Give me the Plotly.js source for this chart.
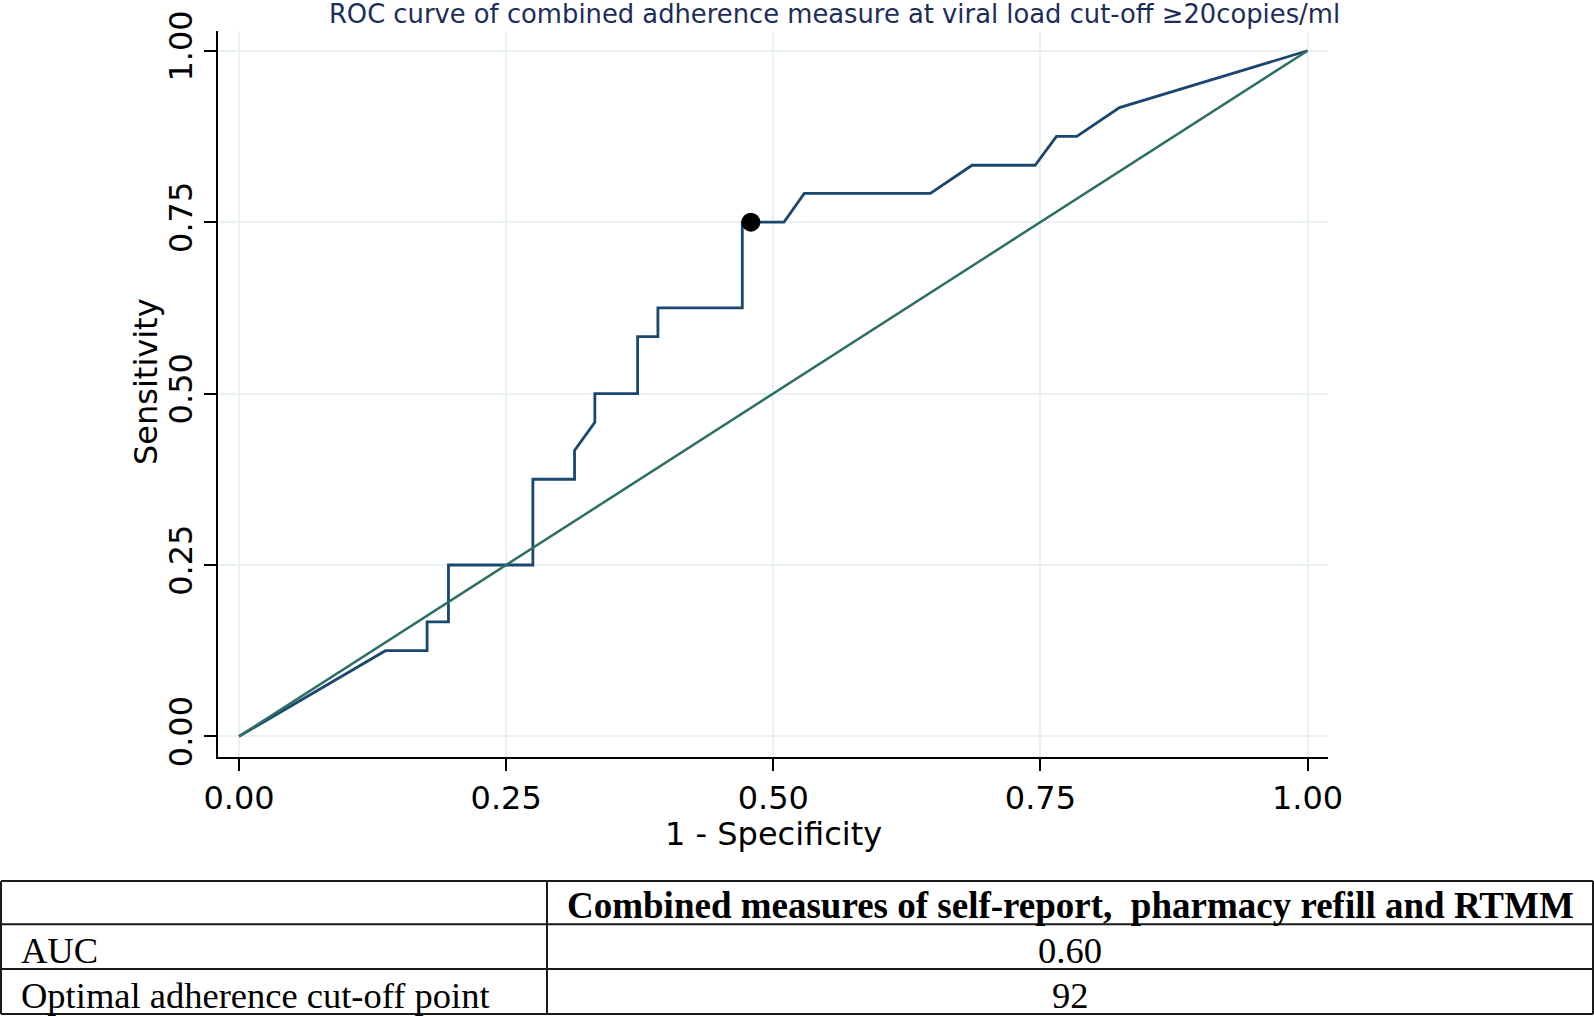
<!DOCTYPE html>
<html>
<head>
<meta charset="utf-8">
<script src="https://cdn.plot.ly/plotly-3.0.1.min.js"></script>
<style>
  html, body { margin: 0; padding: 0; background: #ffffff; }
  #chart { width: 1594px; height: 1016px; }
</style>
</head>
<body>
<div id="chart"></div>
<script>
// ---------- data ----------
const chartTitle = 'ROC curve of combined adherence measure at viral load cut-off \u226520copies/ml';
const xTitle = '1 - Specificity';
const yTitle = 'Sensitivity';

// ROC curve points: 1 - specificity (x) and sensitivity (y)
const rocX = [0, 0.137, 0.157, 0.176, 0.176, 0.196, 0.196, 0.216, 0.235, 0.275, 0.275, 0.294, 0.314, 0.314, 0.333, 0.333, 0.373, 0.373, 0.392, 0.392, 0.431, 0.471, 0.471, 0.510, 0.529, 0.647, 0.686, 0.725, 0.745, 0.765, 0.784, 0.824, 1];
const rocY = [0, 0.125, 0.125, 0.125, 0.167, 0.167, 0.250, 0.250, 0.250, 0.250, 0.375, 0.375, 0.375, 0.417, 0.458, 0.500, 0.500, 0.583, 0.583, 0.625, 0.625, 0.625, 0.750, 0.750, 0.792, 0.792, 0.833, 0.833, 0.833, 0.875, 0.875, 0.917, 1];

// reference (chance) line
const refX = [0, 1];
const refY = [0, 1];

// optimal cut-off point
const optX = [0.479];
const optY = [0.75];

// axis ticks
const tickVals = [0, 0.25, 0.5, 0.75, 1];
const tickText = ['0.00', '0.25', '0.50', '0.75', '1.00'];

// table below the chart
const tableHeader = ['', 'Combined measures of self-report,  pharmacy refill and RTMM'];
const rowLabels = ['AUC', 'Optimal adherence cut-off point'];
const rowValues = ['0.60', '92'];

// ---------- layout helpers ----------
const W = 1594, H = 1016;
const px = v => v / W;
const py = v => 1 - v / H;

const navy = '#1a476f';
const teal = '#2e6f65';
const grid = '#e9f1f3';

const traces = [
  { x: rocX, y: rocY, type: 'scatter', mode: 'lines',
    line: { color: navy, width: 2.8 }, hoverinfo: 'x+y', showlegend: false },
  { x: refX, y: refY, type: 'scatter', mode: 'lines',
    line: { color: teal, width: 2.5 }, hoverinfo: 'skip', showlegend: false },
  { x: optX, y: optY, type: 'scatter', mode: 'markers',
    marker: { color: '#000000', size: 19 }, showlegend: false }
];

// table geometry (pixels)
const colEdges = [1, 547, 1593];
const rowEdges = [881, 924.3, 969, 1014];
const rowTextY = [905, 950, 995];

const shapes = [];
rowEdges.forEach(yv => shapes.push({
  type: 'line', xref: 'paper', yref: 'paper',
  x0: px(colEdges[0]), x1: px(colEdges[2]), y0: py(yv), y1: py(yv),
  line: { color: '#1a1a1a', width: 2 }
}));
colEdges.forEach(xv => shapes.push({
  type: 'line', xref: 'paper', yref: 'paper',
  x0: px(xv), x1: px(xv), y0: py(rowEdges[0]), y1: py(rowEdges[3]),
  line: { color: '#1a1a1a', width: 2 }
}));

const serif = 'Liberation Serif, Times New Roman, serif';
const axisFont = { family: 'DejaVu Sans', size: 32, color: '#000' };

const annotations = [];
const midCol2 = (colEdges[1] + colEdges[2]) / 2;
annotations.push({
  xref: 'paper', yref: 'paper', x: px(midCol2), y: py(rowTextY[0]),
  xanchor: 'center', yanchor: 'middle', showarrow: false, text: tableHeader[1],
  font: { family: serif, size: 37, weight: 'bold', color: '#000' }
});
rowLabels.forEach((lab, i) => {
  annotations.push({
    xref: 'paper', yref: 'paper', x: px(19), y: py(rowTextY[i + 1]),
    xanchor: 'left', yanchor: 'middle', showarrow: false, text: lab,
    font: { family: serif, size: 36.5, color: '#000' }
  });
  annotations.push({
    xref: 'paper', yref: 'paper', x: px(midCol2), y: py(rowTextY[i + 1]),
    xanchor: 'center', yanchor: 'middle', showarrow: false, text: rowValues[i],
    font: { family: serif, size: 36.5, color: '#000' }
  });
});

// axis titles placed as in the reference
annotations.push({
  xref: 'paper', yref: 'paper', x: px(773), y: py(834), xanchor: 'center', yanchor: 'middle',
  showarrow: false, text: xTitle, font: axisFont
});
annotations.push({
  xref: 'paper', yref: 'paper', x: px(146), y: py(382), xanchor: 'center', yanchor: 'middle',
  showarrow: false, text: yTitle, textangle: -90, font: axisFont
});

const layout = {
  width: W, height: H,
  margin: { l: 0, r: 0, t: 0, b: 0, pad: 0 },
  paper_bgcolor: '#ffffff', plot_bgcolor: '#ffffff',
  showlegend: false,
  title: {
    text: chartTitle, x: px(834.5), xanchor: 'center', y: py(14), yanchor: 'middle',
    xref: 'paper', yref: 'paper',
    font: { family: 'DejaVu Sans', size: 25.8, color: '#1c2d5a' }
  },
  xaxis: {
    domain: [px(218.3), px(1328.3)],
    range: [-0.0194, 1.0194],
    tickvals: tickVals, ticktext: tickText,
    ticks: 'outside', ticklen: 12, tickwidth: 2, tickcolor: '#000',
    showline: true, linecolor: '#000', linewidth: 2,
    showgrid: true, gridcolor: grid, gridwidth: 2,
    zeroline: false, automargin: false,
    tickfont: axisFont
  },
  yaxis: {
    domain: [py(756.7), py(30.7)],
    range: [-0.0296, 1.0292],
    tickvals: tickVals, ticktext: tickText, tickangle: -90,
    ticks: 'outside', ticklen: 12, tickwidth: 2, tickcolor: '#000',
    showline: true, linecolor: '#000', linewidth: 2,
    showgrid: true, gridcolor: grid, gridwidth: 2,
    zeroline: false, automargin: false,
    tickfont: axisFont
  },
  shapes: shapes,
  annotations: annotations
};

Plotly.newPlot('chart', traces, layout, { displayModeBar: false });
</script>
</body>
</html>
